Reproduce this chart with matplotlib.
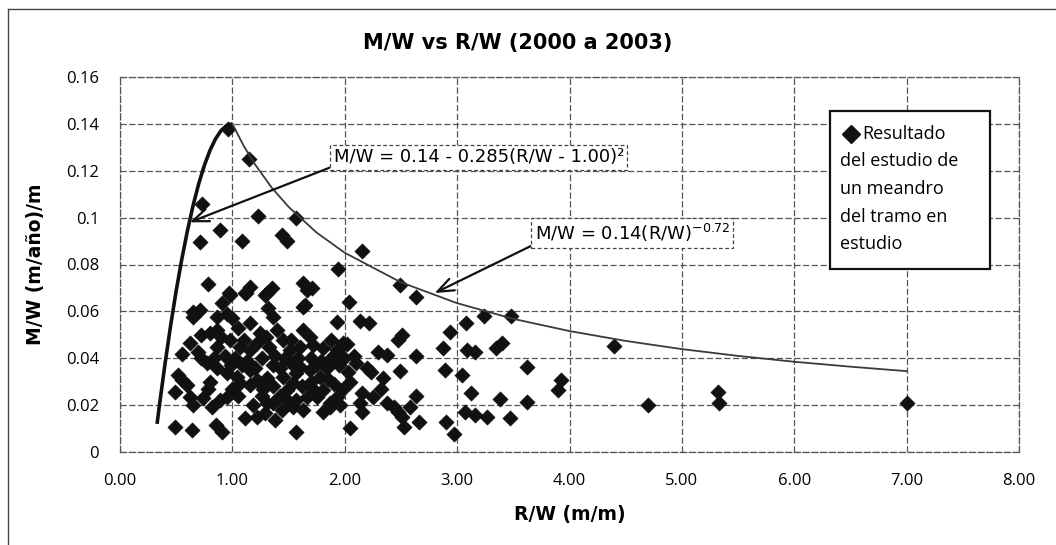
import numpy as np
import matplotlib
matplotlib.use('Agg')
import matplotlib.pyplot as plt
from matplotlib.patches import Rectangle
from matplotlib.lines import Line2D

# measured meander data, R/W (m/m) and M/W ((m/año)/m)
rw = [0.73, 1.15, 1.23, 1.57, 0.89, 0.71, 1.09, 1.44, 1.49, 1.94, 2.15, 0.78, 0.97, 1.16, 1.12,
      1.35, 1.31, 1.63, 1.71, 0.96,
      2.49, 2.63, 0.65, 1.63, 2.04, 2.14, 2.22, 1.93, 2.51, 2.47, 2.63, 2.87, 2.94, 3.08, 3.40,
      3.35, 3.48, 3.24, 3.09, 3.16, 2.30, 2.38, 2.49, 2.89, 3.04, 3.62, 3.12, 3.38, 3.62, 3.07,
      3.16, 3.27, 3.47, 2.90, 2.97, 2.63, 2.66, 2.53, 2.58, 2.38, 2.44, 2.47, 2.51, 2.15, 2.05,
      2.20, 2.23, 2.34, 2.15, 2.25, 2.14, 2.32, 3.92, 3.90, 4.40, 4.70, 5.32, 5.33, 7.00,
      0.71, 0.65, 0.91, 0.98, 1.11, 1.29, 1.32, 1.36, 1.65, 1.66, 1.69, 1.63,
      0.86, 0.95, 1.00, 1.05, 1.16, 1.25, 1.40, 1.45, 0.86, 0.80, 0.62, 0.55, 0.69, 0.86, 0.98,
      1.07, 1.16, 1.22, 1.33, 1.51, 1.60, 1.72, 1.81, 1.93, 1.98,
      0.77, 0.86, 0.95, 1.04, 1.07, 1.16, 1.22, 1.16, 1.36, 1.31, 1.45, 1.49, 1.54, 1.57, 1.60,
      1.69, 1.78, 1.81, 1.93, 1.87, 1.75, 1.66, 1.57, 1.49, 1.31, 1.29, 1.11, 0.95, 0.89, 0.74,
      0.65, 0.62, 0.49, 0.52, 0.55, 0.60, 0.49, 0.64, 0.85, 0.91, 1.57, 1.38, 1.22, 1.87, 1.81,
      0.72, 0.84, 0.93, 1.02, 1.13, 1.26, 1.38, 1.47, 1.58, 1.70, 1.79, 1.88, 1.99,
      0.80, 0.99, 1.09, 1.20, 1.42, 1.52, 1.74, 1.84, 1.95, 2.03,
      0.78, 1.00, 1.27, 1.36, 1.62, 1.72, 1.90, 1.98,
      0.82, 1.18, 1.44, 1.54, 1.63, 1.96,
      1.10, 1.30, 1.52, 1.88, 2.02, 0.90, 0.72,
      1.42, 1.36, 1.05, 1.26, 1.70, 1.85, 2.05, 2.08, 2.10]
mw = [0.106, 0.125, 0.1005, 0.0997, 0.0946, 0.0895, 0.090, 0.0924, 0.090, 0.078, 0.0857, 0.0716, 0.068, 0.0703, 0.068,
      0.070, 0.068, 0.072, 0.070, 0.138,
      0.0711, 0.066, 0.0596, 0.0618, 0.064, 0.056, 0.055, 0.0554, 0.050, 0.0477, 0.041, 0.0443, 0.051, 0.055, 0.0464,
      0.0443, 0.058, 0.058, 0.0435, 0.0426, 0.0426, 0.0413, 0.0345, 0.035, 0.0328, 0.0362, 0.025, 0.0225, 0.0213, 0.017,
      0.0158, 0.0149, 0.0147, 0.0128, 0.0075, 0.024, 0.0128, 0.0107, 0.0192, 0.021, 0.019, 0.017, 0.015, 0.017, 0.0102,
      0.036, 0.034, 0.0315, 0.025, 0.0235, 0.021, 0.027, 0.0307, 0.0264, 0.0452, 0.020, 0.0255, 0.0209, 0.021,
      0.0605, 0.0575, 0.0635, 0.067, 0.0677, 0.067, 0.0613, 0.0575, 0.0626, 0.069, 0.049, 0.052,
      0.0575, 0.059, 0.057, 0.053, 0.055, 0.0507, 0.052, 0.0477, 0.052, 0.0507, 0.0464, 0.042, 0.0426, 0.0447, 0.0477,
      0.0447, 0.0435, 0.0464, 0.0447, 0.0435, 0.0447, 0.0456, 0.0443, 0.0435, 0.0464,
      0.0379, 0.0358, 0.0337, 0.032, 0.0294, 0.0285, 0.0307, 0.035, 0.037, 0.0315, 0.032, 0.0264, 0.0294, 0.0337, 0.0362,
      0.035, 0.032, 0.0264, 0.0234, 0.0209, 0.0234, 0.0234, 0.0222, 0.0222, 0.0209, 0.0166, 0.0145, 0.0234, 0.0222, 0.023,
      0.020, 0.0234, 0.0256, 0.0328, 0.0307, 0.0285, 0.0107, 0.0094, 0.0115, 0.0085, 0.0085, 0.0136, 0.0149, 0.019, 0.017,
      0.040, 0.040, 0.041, 0.040, 0.039, 0.040, 0.041, 0.040, 0.040, 0.040, 0.039, 0.040, 0.040,
      0.030, 0.037, 0.037, 0.036, 0.036, 0.038, 0.037, 0.036, 0.037, 0.034,
      0.027, 0.027, 0.027, 0.028, 0.028, 0.027, 0.029, 0.027,
      0.019, 0.020, 0.018, 0.019, 0.018, 0.020,
      0.048, 0.049, 0.048, 0.048, 0.046, 0.049, 0.050,
      0.024, 0.021, 0.024, 0.024, 0.030, 0.031, 0.030, 0.041, 0.038]

# envelope curves as drawn on the chart
par_x = [0.33, 0.35, 0.40, 0.45, 0.50, 0.55, 0.60, 0.65, 0.70, 0.75, 0.80, 0.85, 0.90, 0.95, 1.00]
par_y = [0.012, 0.0196, 0.0374, 0.0538, 0.0688, 0.0823, 0.0944, 0.1051, 0.1144, 0.1222,
         0.1286, 0.1336, 0.1372, 0.1393, 0.140]
pow_x = [1.00, 1.10, 1.20, 1.35, 1.50, 1.75, 2.00, 2.50, 3.00, 3.50, 4.00, 4.50, 5.00, 5.50,
         6.00, 6.50, 7.00]
pow_y = [0.140, 0.1307, 0.1228, 0.1128, 0.1046, 0.0936, 0.0850, 0.0724, 0.0635, 0.0568, 0.0516,
         0.0474, 0.0439, 0.0410, 0.0385, 0.0364, 0.0345]

xticks = [0, 1, 2, 3, 4, 5, 6, 7, 8]
xticklabels = ['0.00', '1.00', '2.00', '3.00', '4.00', '5.00', '6.00', '7.00', '8.00']
yticks = [0, 0.02, 0.04, 0.06, 0.08, 0.10, 0.12, 0.14, 0.16]
yticklabels = ['0', '0.02', '0.04', '0.06', '0.08', '0.1', '0.12', '0.14', '0.16']
legend_lines = ['Resultado', 'del estudio de', 'un meandro', 'del tramo en', 'estudio']

W, H = 1056, 545
fig = plt.figure(figsize=(W / 100, H / 100), dpi=100)
ax = fig.add_axes([120 / W, 1 - 452 / H, 899 / W, 375 / H])

grid_kw = dict(color='#555555', lw=0.9, ls=(0, (5, 2)))
ax.grid(True, **grid_kw)
ax.set_axisbelow(True)
for s in ax.spines.values():
    s.set_color('#555555')
    s.set_linestyle((0, (5, 2)))
    s.set_linewidth(0.9)

ax.scatter(rw, mw, marker='D', s=62, color='#111111', edgecolors='#111111', linewidths=0.3, zorder=3)
ax.plot(par_x, par_y, color='#111111', lw=2.6, zorder=4, solid_capstyle='butt')
ax.plot(pow_x, pow_y, color='#3a3a3a', lw=1.3, zorder=4)

ax.set_xlim(0, 8)
ax.set_ylim(0, 0.16)
ax.set_xticks(xticks)
ax.set_xticklabels(xticklabels, family='Open Sans', fontsize=12)
ax.set_yticks(yticks)
ax.set_yticklabels(yticklabels, family='Open Sans', fontsize=12)
ax.tick_params(length=0)
ax.tick_params(axis='y', pad=15)
ax.tick_params(axis='x', pad=15)

ax.set_xlabel('R/W (m/m)', fontsize=13.5, fontweight='bold')
ax.set_ylabel('M/W (m/año)/m', fontsize=13.5, fontweight='bold')
ax.xaxis.set_label_coords(0.5, -0.141)
ax.yaxis.set_label_coords(-0.083, 0.50)

fig.text(518 / W, 1 - 43 / H, 'M/W vs R/W (2000 a 2003)', fontsize=15, fontweight='bold',
         ha='center', va='center')

box_kw = dict(boxstyle='square,pad=0.2', fc='white', ec='#444444', ls=(0, (3, 2)), lw=0.9)
arrow_kw = dict(arrowstyle='->,head_length=0.9,head_width=0.35', color='#111111', lw=1.6,
                relpos=(0, 0), shrinkA=0, shrinkB=0)
ax.annotate('M/W = 0.14 - 0.285(R/W - 1.00)²', xy=(0.62, 0.098), xytext=(1.90, 0.1258),
            fontsize=13, ha='left', va='center', bbox=box_kw, arrowprops=arrow_kw, zorder=6)
ax.annotate(r'M/W = 0.14(R/W)$^{-0.72}$', xy=(2.80, 0.0678), xytext=(3.69, 0.0934),
            fontsize=13, ha='left', va='center', bbox=box_kw, arrowprops=arrow_kw, zorder=6)

# legend box
fig.add_artist(Rectangle((830 / W, 1 - 269 / H), 160 / W, 158 / H, transform=fig.transFigure,
                         fc='white', ec='#111111', lw=1.6, zorder=5))
fig.add_artist(Line2D([851 / W], [1 - 134 / H], marker='D', markersize=9, color='#111111',
                      transform=fig.transFigure, zorder=6))
ys = [134, 161, 189, 217, 244]
xs = [862, 840, 840, 840, 840]
for t, xp, yp in zip(legend_lines, xs, ys):
    fig.text(xp / W, 1 - yp / H, t, family='Open Sans', fontsize=13, ha='left', va='center', zorder=7)

# outer chart frame
fig.add_artist(Line2D([8 / W, 1], [1 - 9 / H, 1 - 9 / H], color='#444444', lw=1.0))
fig.add_artist(Line2D([8 / W, 8 / W], [0, 1 - 9 / H], color='#444444', lw=1.0))

fig.savefig('out.png', dpi=100)
